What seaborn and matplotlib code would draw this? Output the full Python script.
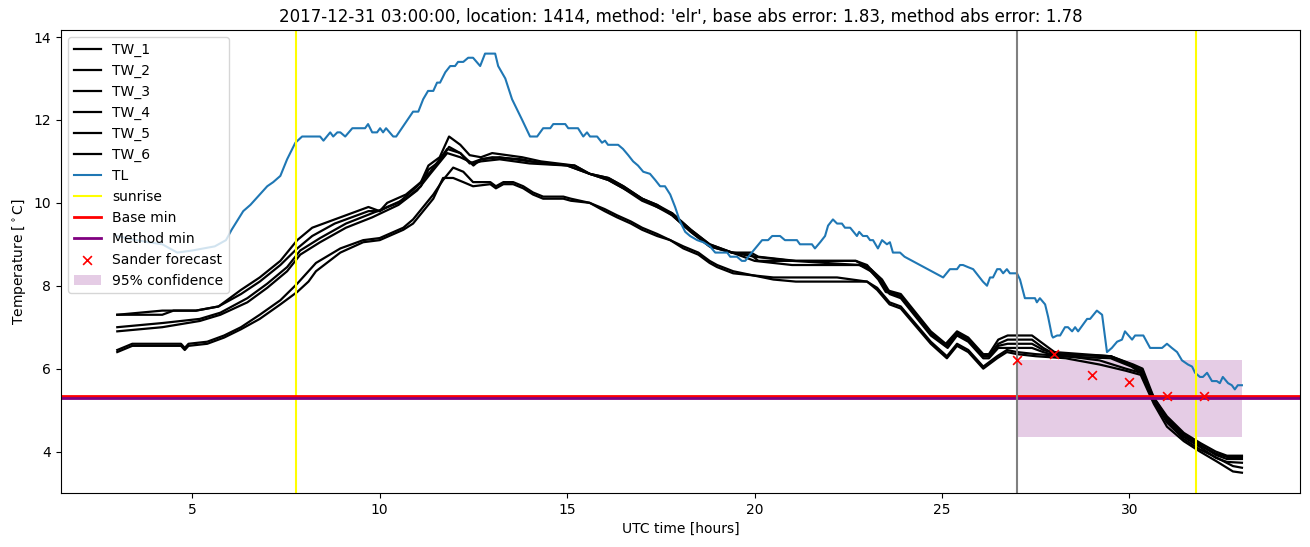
import numpy as np
import pandas as pd
import matplotlib
matplotlib.use("Agg")
import matplotlib.pyplot as plt
import seaborn as sns

# ---------------- data ----------------
title = "2017-12-31 03:00:00, location: 1414, method: 'elr', base abs error: 1.83, method abs error: 1.78"

# TW_1 / TW_2 share hours
tw_a_hours = [3.0, 4.2, 4.5, 5.1, 5.7, 6.3, 6.8, 7.35,
              7.8, 8.2, 8.8, 9.7, 10.0, 10.2, 10.7, 11.1,
              11.3, 11.6, 11.85, 12.15, 12.4, 12.7, 13.0, 13.8,
              14.3, 15.2, 15.6, 16.1, 16.5, 17.0, 17.4, 17.8,
              18.3, 18.8, 19.4, 19.9, 20.1, 21.1, 22.7, 23.0,
              23.3, 23.5, 23.9, 24.7, 25.1, 25.4, 25.7, 26.1,
              26.25, 26.5, 26.75, 27.4, 27.7, 28.0, 29.5, 30.1,
              30.35, 30.65, 31.0, 31.45, 31.9, 32.3, 32.6, 33.0]
tw_1 = [7.3, 7.3, 7.4, 7.4, 7.5, 7.9, 8.2, 8.6,
        9.1, 9.4, 9.6, 9.9, 9.8, 10.0, 10.2, 10.5,
        10.9, 11.1, 11.6, 11.4, 11.15, 11.1, 11.2, 11.1,
        11.0, 10.9, 10.7, 10.6, 10.4, 10.1, 9.9, 9.75,
        9.35, 9.0, 8.8, 8.8, 8.7, 8.6, 8.6, 8.5,
        8.2, 7.9, 7.8, 6.9, 6.6, 6.9, 6.75, 6.35,
        6.35, 6.7, 6.8, 6.8, 6.6, 6.4, 6.3, 6.1,
        6.0, 5.3, 4.85, 4.45, 4.2, 4.0, 3.9, 3.9]
tw_2 = [7.3, 7.4, 7.4, 7.4, 7.5, 7.8, 8.1, 8.5,
        8.9, 9.2, 9.5, 9.8, 9.8, 9.9, 10.1, 10.4,
        10.8, 11.0, 11.35, 11.2, 10.95, 11.05, 11.1, 11.05,
        10.95, 10.9, 10.7, 10.55, 10.35, 10.1, 9.95, 9.7,
        9.3, 8.95, 8.8, 8.75, 8.6, 8.6, 8.6, 8.45,
        8.15, 7.85, 7.75, 6.85, 6.55, 6.85, 6.7, 6.3,
        6.3, 6.6, 6.7, 6.7, 6.5, 6.35, 6.3, 6.05,
        5.95, 5.25, 4.8, 4.4, 4.15, 3.95, 3.87, 3.87]

# TW_3 / TW_4 share hours
tw_b_hours = [3.0, 4.2, 5.2, 5.75, 6.47, 7.0, 7.53, 7.88,
              8.41, 9.1, 9.8, 10.5, 11.0, 11.35, 11.8, 12.15,
              12.5, 12.7, 13.2, 14.0, 15.0, 15.6, 16.1, 16.5,
              17.0, 17.4, 17.8, 18.3, 18.8, 19.4, 20.0, 21.0,
              22.8, 23.1, 23.4, 23.6, 23.9, 24.7, 25.15, 25.4,
              25.7, 26.1, 26.25, 26.5, 26.75, 27.4, 27.7, 28.1,
              29.5, 30.05, 30.3, 30.65, 31.0, 31.45, 31.9, 32.3,
              32.6, 33.0]
tw_3 = [7.0, 7.1, 7.2, 7.35, 7.7, 8.05, 8.45, 8.85,
        9.15, 9.5, 9.75, 10.0, 10.4, 10.75, 11.3, 11.2,
        10.9, 11.05, 11.1, 11.0, 10.9, 10.7, 10.6, 10.4,
        10.1, 9.95, 9.75, 9.35, 9.0, 8.8, 8.7, 8.6,
        8.5, 8.4, 8.15, 7.85, 7.75, 6.85, 6.55, 6.85,
        6.7, 6.3, 6.3, 6.55, 6.6, 6.6, 6.45, 6.35,
        6.3, 6.1, 5.95, 5.3, 4.8, 4.4, 4.15, 3.92,
        3.82, 3.82]
tw_4 = [6.9, 7.0, 7.15, 7.3, 7.6, 7.95, 8.35, 8.75,
        9.05, 9.4, 9.65, 9.95, 10.3, 10.7, 11.2, 11.1,
        10.95, 11.0, 11.05, 10.95, 10.9, 10.7, 10.55, 10.35,
        10.05, 9.9, 9.7, 9.3, 8.95, 8.8, 8.6, 8.5,
        8.5, 8.35, 8.1, 7.8, 7.7, 6.8, 6.5, 6.8,
        6.65, 6.25, 6.25, 6.5, 6.5, 6.5, 6.4, 6.3,
        6.25, 6.05, 5.9, 5.25, 4.75, 4.35, 4.1, 3.85,
        3.75, 3.73]

# TW_5 / TW_6 share hours
tw_c_hours = [3.0, 3.4, 4.7, 4.8, 4.9, 5.4, 5.85, 6.3,
              6.8, 7.35, 7.8, 8.1, 8.3, 8.95, 9.56, 10.0,
              10.63, 10.89, 11.43, 11.69, 11.96, 12.23, 12.49, 12.95,
              13.1, 13.3, 13.56, 13.83, 14.09, 14.36, 14.9, 15.1,
              15.6, 16.0, 16.33, 16.7, 17.0, 17.4, 17.75, 18.1,
              18.5, 18.8, 19.0, 19.43, 19.96, 20.5, 21.1, 22.2,
              23.0, 23.27, 23.6, 23.9, 24.7, 25.13, 25.4, 25.7,
              26.1, 26.47, 26.73, 27.0, 27.5, 28.3, 29.2, 29.9,
              30.3, 30.65, 31.0, 31.45, 31.88, 32.33, 32.76, 33.0]
tw_5 = [6.45, 6.6, 6.6, 6.5, 6.6, 6.65, 6.8, 7.0,
        7.3, 7.65, 8.05, 8.35, 8.55, 8.9, 9.1, 9.15,
        9.4, 9.6, 10.2, 10.55, 10.85, 10.75, 10.5, 10.5,
        10.4, 10.5, 10.5, 10.4, 10.25, 10.15, 10.15, 10.1,
        10.0, 9.85, 9.7, 9.55, 9.4, 9.25, 9.1, 8.95,
        8.8, 8.6, 8.5, 8.35, 8.25, 8.2, 8.2, 8.2,
        8.1, 7.95, 7.6, 7.5, 6.65, 6.3, 6.6, 6.45,
        6.05, 6.3, 6.45, 6.4, 6.35, 6.3, 6.2, 6.0,
        5.9, 5.2, 4.7, 4.3, 4.05, 3.85, 3.65, 3.61]
tw_6 = [6.4, 6.55, 6.55, 6.45, 6.55, 6.6, 6.75, 6.95,
        7.2, 7.55, 7.85, 8.1, 8.35, 8.8, 9.05, 9.1,
        9.35, 9.5, 10.1, 10.6, 10.6, 10.5, 10.4, 10.45,
        10.35, 10.45, 10.45, 10.35, 10.2, 10.1, 10.1, 10.05,
        10.0, 9.8, 9.65, 9.5, 9.35, 9.2, 9.1, 8.9,
        8.75, 8.55, 8.45, 8.3, 8.25, 8.15, 8.1, 8.1,
        8.1, 7.9, 7.55, 7.45, 6.6, 6.25, 6.55, 6.4,
        6.0, 6.25, 6.4, 6.35, 6.3, 6.25, 6.1, 5.95,
        5.85, 5.15, 4.6, 4.25, 4.0, 3.76, 3.52, 3.49]

# TL (air temperature) as (hour, value) readings
tl_points = [
    (3.0, 9.2), (3.5, 9.1), (4.2, 9.0), (4.6, 8.8), (5.0, 8.85), (5.3, 8.9), (5.6, 8.95),
    (5.9, 9.1), (6.05, 9.35), (6.36, 9.8), (6.55, 9.95), (7.0, 10.4), (7.16, 10.5),
    (7.35, 10.65), (7.53, 11.05), (7.75, 11.45), (7.93, 11.6), (8.41, 11.6), (8.5, 11.5),
    (8.68, 11.7), (8.76, 11.6), (8.87, 11.7), (8.95, 11.7), (9.08, 11.6), (9.27, 11.8),
    (9.61, 11.8), (9.69, 11.9), (9.8, 11.7), (9.93, 11.7), (10.01, 11.8), (10.09, 11.7),
    (10.17, 11.8), (10.36, 11.6), (10.44, 11.6), (10.89, 12.2), (11.03, 12.2), (11.16, 12.5),
    (11.29, 12.7), (11.43, 12.7), (11.53, 12.9), (11.61, 12.9), (11.75, 13.15), (11.88, 13.3),
    (12.01, 13.3), (12.09, 13.4), (12.23, 13.4), (12.36, 13.5), (12.49, 13.5), (12.68, 13.3),
    (12.81, 13.6), (13.08, 13.6), (13.16, 13.3), (13.35, 13.0), (13.53, 12.5), (13.8, 12.0),
    (14.01, 11.6), (14.2, 11.6), (14.36, 11.8), (14.55, 11.8), (14.63, 11.9), (14.95, 11.9),
    (15.03, 11.8), (15.29, 11.8), (15.43, 11.6), (15.53, 11.7), (15.61, 11.6), (15.8, 11.6),
    (15.93, 11.45), (16.01, 11.5), (16.09, 11.4), (16.36, 11.4), (16.49, 11.3), (16.63, 11.15),
    (16.76, 11.0), (16.89, 10.9), (17.03, 10.75), (17.21, 10.7), (17.35, 10.55), (17.48, 10.4),
    (17.61, 10.4), (17.75, 10.2), (17.88, 9.9), (18.01, 9.55), (18.15, 9.3), (18.28, 9.2),
    (18.47, 9.1), (18.63, 9.05), (18.81, 8.95), (18.95, 8.8), (19.27, 8.8), (19.35, 8.7),
    (19.53, 8.7), (19.66, 8.6), (19.75, 8.6), (19.88, 8.75), (20.2, 9.1), (20.36, 9.1),
    (20.47, 9.2), (20.68, 9.2), (20.81, 9.1), (21.13, 9.1), (21.21, 9.0), (21.53, 9.0),
    (21.61, 8.9), (21.75, 9.05), (21.88, 9.2), (21.96, 9.45), (22.09, 9.6), (22.2, 9.5),
    (22.33, 9.5), (22.41, 9.4), (22.55, 9.4), (22.73, 9.2), (22.79, 9.3), (22.89, 9.2),
    (23.0, 9.2), (23.08, 9.1), (23.16, 9.1), (23.29, 8.9), (23.4, 9.1), (23.53, 9.0),
    (23.61, 9.05), (23.69, 8.8), (23.88, 8.8), (24.0, 8.7), (25.03, 8.2), (25.21, 8.4),
    (25.4, 8.4), (25.48, 8.5), (25.56, 8.5), (25.69, 8.45), (25.83, 8.4), (25.96, 8.25),
    (26.09, 8.1), (26.2, 8.0), (26.28, 8.2), (26.36, 8.2), (26.47, 8.4), (26.55, 8.4),
    (26.63, 8.3), (26.73, 8.4), (26.81, 8.3), (27.0, 8.3), (27.08, 8.15), (27.21, 7.7),
    (27.48, 7.7), (27.53, 7.6), (27.61, 7.7), (27.75, 7.55), (27.83, 7.25), (27.93, 6.8),
    (27.96, 6.75), (28.07, 6.8), (28.15, 6.8), (28.28, 7.0), (28.36, 7.0), (28.47, 6.9),
    (28.55, 7.0), (28.63, 6.9), (28.87, 7.2), (28.95, 7.2), (29.13, 7.4), (29.27, 7.3),
    (29.4, 6.4), (29.53, 6.5), (29.67, 6.65), (29.8, 6.7), (29.88, 6.9), (30.07, 6.7),
    (30.15, 6.8), (30.37, 6.8), (30.55, 6.5), (30.87, 6.5), (31.0, 6.6), (31.13, 6.5),
    (31.27, 6.4), (31.4, 6.2), (31.56, 6.1), (31.67, 6.05), (31.75, 5.9), (31.88, 5.8),
    (31.96, 5.8), (32.07, 5.9), (32.2, 5.7), (32.33, 5.7), (32.41, 5.65), (32.49, 5.8),
    (32.63, 5.65), (32.73, 5.6), (32.81, 5.5), (32.89, 5.6), (33.0, 5.6),
]

sunrise_hours = [7.77, 31.77]
forecast_time = 27.0
base_min = 5.33
method_min = 5.28
sander_hours = [27, 28, 29, 30, 31, 32]
sander_values = [6.22, 6.35, 5.85, 5.68, 5.33, 5.35]
conf_hours = [27.0, 33.0]
conf_low = 4.34
conf_high = 6.22

# ---------------- plot ----------------
fig = plt.figure(figsize=(13.1, 5.47), dpi=100)
ax = fig.add_axes([0.0466, 0.0987, 0.9458, 0.8465])

tw_sets = [("TW_1", tw_a_hours, tw_1), ("TW_2", tw_a_hours, tw_2),
           ("TW_3", tw_b_hours, tw_3), ("TW_4", tw_b_hours, tw_4),
           ("TW_5", tw_c_hours, tw_5), ("TW_6", tw_c_hours, tw_6)]
for name, hrs, vals in tw_sets:
    assert len(hrs) == len(vals), name
    sns.lineplot(x=hrs, y=vals, color="black", lw=1.6, label=name, ax=ax,
                 estimator=None, sort=False)

tl_df = pd.DataFrame(tl_points, columns=["hour", "TL"])
sns.lineplot(data=tl_df, x="hour", y="TL", color="#1f77b4", lw=1.5, label="TL",
             ax=ax, estimator=None, sort=False)

for i, h in enumerate(sunrise_hours):
    ax.axvline(h, color="yellow", lw=1.5, label="sunrise" if i == 0 else None)
ax.axhline(base_min, color="red", lw=2, label="Base min")
ax.axhline(method_min, color="purple", lw=2, label="Method min")
sns.scatterplot(x=sander_hours, y=sander_values, marker="x", color="red", s=40,
                linewidth=1.2, label="Sander forecast", ax=ax, zorder=3)
ax.fill_between(conf_hours, conf_low, conf_high, color="purple", alpha=0.2,
                lw=0, label="95% confidence")
ax.axvline(forecast_time, color="gray", lw=1.5)

ax.set_title(title, fontsize=12)
ax.set_xlabel("UTC time [hours]")
ax.set_ylabel(r"Temperature [$^\circ$C]")
ax.set_xlim(1.5, 34.55)
ax.set_ylim(3.0, 14.17)
ax.legend(loc="upper left")

fig.savefig("out.png", dpi=100)
